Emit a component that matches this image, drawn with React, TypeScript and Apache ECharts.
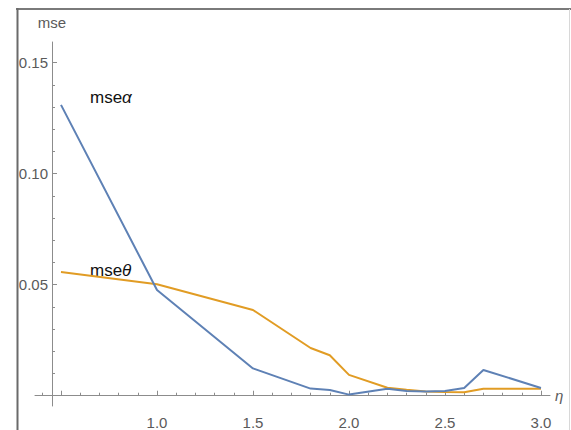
import React, { useEffect, useRef } from 'react';
import * as echarts from 'echarts';

// Data
const etaValues = [0.5, 1.0, 1.5, 1.8, 1.9, 2.0, 2.2, 2.3, 2.4, 2.5, 2.6, 2.7, 3.0];
const mseAlpha = [0.131, 0.0476, 0.0123, 0.0032, 0.0026, 0.0005, 0.0031, 0.0021, 0.0019, 0.0021, 0.0035, 0.0116, 0.0035];
const mseTheta = [0.0557, 0.0502, 0.0386, 0.0215, 0.0182, 0.0094, 0.0036, 0.0027, 0.0019, 0.0017, 0.0016, 0.0031, 0.0031];

// Ticks
const xLabelTicks = [1.0, 1.5, 2.0, 2.5, 3.0];
const xMajorTicks = [0.5, 1.0, 1.5, 2.0, 2.5, 3.0];
const xMinorTicks = [0.4, 0.6, 0.7, 0.8, 0.9, 1.1, 1.2, 1.3, 1.4, 1.6, 1.7, 1.8, 1.9, 2.1, 2.2, 2.3, 2.4, 2.6, 2.7, 2.8, 2.9];
const yLabelTicks = [0.05, 0.1, 0.15];
const yMajorTicks = [0.05, 0.1, 0.15];
const yMinorTicks = [0.01, 0.02, 0.03, 0.04, 0.06, 0.07, 0.08, 0.09, 0.11, 0.12, 0.13, 0.14];

const X_MIN = 0.3646;
const X_MAX = 3.047;
const Y_MIN = -0.00463;
const Y_MAX = 0.1593;

const FONT = '"Liberation Sans", Arial, sans-serif';
const AXIS_COLOR = '#8c8c8c';
const LABEL_COLOR = '#5a5a5a';

export default function App() {
  const ref = useRef<HTMLDivElement>(null);

  useEffect(() => {
    if (!ref.current) return;
    const chart = echarts.init(ref.current, undefined, { renderer: 'svg' });
    const lineStyle = { color: AXIS_COLOR, width: 1 };
    const option: any = {
      animation: false,
      backgroundColor: '#ffffff',
      textStyle: { fontFamily: FONT },
      grid: { left: 35, right: 21, top: 42, bottom: 16, containLabel: false },
      xAxis: [
        {
          type: 'value',
          min: X_MIN,
          max: X_MAX,
          position: 'bottom',
          axisLine: { show: true, onZero: true, onZeroAxisIndex: 0, lineStyle },
          axisTick: { show: true, inside: true, length: 5, customValues: xMajorTicks, lineStyle },
          axisLabel: {
            show: true,
            customValues: xLabelTicks,
            formatter: (v: number) => v.toFixed(1),
            margin: 9,
            fontSize: 15,
            color: LABEL_COLOR,
            fontFamily: FONT,
          },
          splitLine: { show: false },
          name: 'η',
          nameLocation: 'end',
          nameGap: 5,
          nameTextStyle: { fontStyle: 'italic', fontSize: 15, color: LABEL_COLOR, fontFamily: FONT },
        },
        {
          type: 'value',
          min: X_MIN,
          max: X_MAX,
          position: 'bottom',
          axisLine: { show: false, onZero: true, onZeroAxisIndex: 0 },
          axisTick: { show: true, inside: true, length: 3, customValues: xMinorTicks, lineStyle },
          axisLabel: { show: false },
          splitLine: { show: false },
        },
      ],
      yAxis: [
        {
          type: 'value',
          min: Y_MIN,
          max: Y_MAX,
          position: 'left',
          offset: -17,
          axisLine: { show: true, onZero: false, lineStyle },
          axisTick: { show: true, inside: true, length: 5, customValues: yMajorTicks, lineStyle },
          axisLabel: {
            show: true,
            customValues: yLabelTicks,
            formatter: (v: number) => v.toFixed(2),
            margin: 4,
            fontSize: 15,
            color: LABEL_COLOR,
            fontFamily: FONT,
          },
          splitLine: { show: false },
          name: 'mse',
          nameLocation: 'end',
          nameGap: 12,
          nameTextStyle: { fontSize: 15, color: LABEL_COLOR, fontFamily: FONT, align: 'center' },
        },
        {
          type: 'value',
          min: Y_MIN,
          max: Y_MAX,
          position: 'left',
          offset: -17,
          axisLine: { show: false, onZero: false },
          axisTick: { show: true, inside: true, length: 3, customValues: yMinorTicks, lineStyle },
          axisLabel: { show: false },
          splitLine: { show: false },
        },
      ],
      series: [
        {
          name: 'mseα',
          type: 'line',
          xAxisIndex: 0,
          yAxisIndex: 0,
          data: etaValues.map((x, i) => [x, mseAlpha[i]]),
          showSymbol: false,
          symbol: 'none',
          lineStyle: { color: '#5E81B5', width: 2 },
          z: 3,
        },
        {
          name: 'mseθ',
          type: 'line',
          xAxisIndex: 0,
          yAxisIndex: 0,
          data: etaValues.map((x, i) => [x, mseTheta[i]]),
          showSymbol: false,
          symbol: 'none',
          lineStyle: { color: '#E19C24', width: 2 },
          z: 2,
        },
      ],
      graphic: [
        {
          type: 'text',
          x: 90,
          y: 97.5,
          style: {
            text: '{a|mse}{g|α}',
            verticalAlign: 'middle',
            rich: {
              a: { fontSize: 17, fontFamily: FONT, fill: '#111' },
              g: { fontSize: 17, fontFamily: FONT, fontStyle: 'italic', fill: '#111' },
            },
          },
        },
        {
          type: 'text',
          x: 90,
          y: 270.5,
          style: {
            text: '{a|mse}{g|θ}',
            verticalAlign: 'middle',
            rich: {
              a: { fontSize: 17, fontFamily: FONT, fill: '#111' },
              g: { fontSize: 17, fontFamily: FONT, fontStyle: 'italic', fill: '#111' },
            },
          },
        },
        {
          type: 'line',
          shape: { x1: 16, y1: 9, x2: 571, y2: 9 },
          style: { stroke: '#7a7a7a', lineWidth: 2 },
          z: 100,
        },
        {
          type: 'line',
          shape: { x1: 17.5, y1: 8, x2: 17.5, y2: 430 },
          style: { stroke: '#6a6a6a', lineWidth: 2 },
          z: 100,
        },
        {
          type: 'line',
          shape: { x1: 569.5, y1: 9, x2: 569.5, y2: 430 },
          style: { stroke: '#d8d8d8', lineWidth: 1 },
          z: 100,
        },
      ],
    };
    chart.setOption(option);
    return () => chart.dispose();
  }, []);

  return (
    <div
      ref={ref}
      style={{ position: 'fixed', left: 0, top: 0, width: 571, height: 430, background: '#fff' }}
    />
  );
}
